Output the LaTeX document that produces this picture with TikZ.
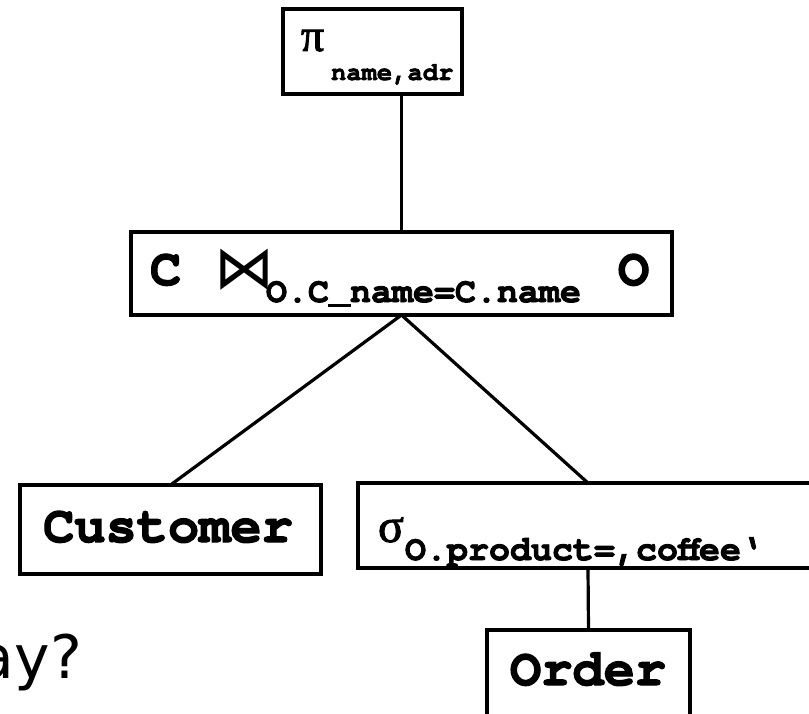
\documentclass[tikz,border=0pt]{standalone}
\usepackage{fontspec}
\setmainfont{Liberation Serif}
\newfontfamily\codefont{texgyrecursor}[Extension=.otf, UprightFont=*-regular, BoldFont=*-bold, BoldFeatures={FakeBold=2.5}]
\newfontfamily\greekfont{Liberation Serif}[FakeBold=2]
\newfontfamily\opfont{DejaVu Sans}
\newfontfamily\slidefont{DejaVu Sans}

\begin{document}
\begin{tikzpicture}[x=1pt,y=-1pt,
  opbox/.style={draw, line width=3.2pt, inner sep=0pt, outer sep=0pt},
  link/.style={line width=3.2pt},
  lbl/.style={inner sep=0pt, outer sep=0pt},
  big/.style={lbl, font=\codefont\bfseries\fontsize{52}{60}\selectfont},
  sub/.style={lbl, font=\codefont\bfseries\fontsize{35}{40}\selectfont},
  smallsub/.style={lbl, font=\codefont\bfseries\fontsize{25.5}{30}\selectfont},
  greek/.style={lbl, font=\greekfont\fontsize{#1}{#1}\selectfont}]

\clip (0,0) rectangle (809,714);
\fill[white] (0,0) rectangle (809,714);

% operator boxes of the query tree
\node[opbox, minimum width=179pt, minimum height=85pt] (proj) at (372.5,51.5) {};
\node[opbox, minimum width=541pt, minimum height=83pt] (join) at (401.5,273.5) {};
\node[opbox, minimum width=301pt, minimum height=89pt] (cust) at (170.5,529.5) {};
\node[opbox, minimum width=460pt, minimum height=85pt] (sel) at (588,525.5) {};
\node[opbox, minimum width=203pt, minimum height=110pt] (ord) at (588.5,685) {};

% tree edges
\draw[link] (proj.south -| join.north) -- (join.north);
\draw[link] (join.south) -- (cust.north);
\draw[link] (join.south) -- (sel.north);
\draw[link] (sel.south) -- (ord.north);

% projection
\node[greek=46, anchor=base west] (pi) at (301,51) {π};
\node[smallsub, anchor=base west] (pisub) at (331,80) {name,adr};

% join
\node[big, anchor=base west] (jc) at (150,285) {C};
\node[lbl, anchor=base west, font=\opfont\fontsize{60}{60}\selectfont] (bowtie) at (214,289) {⋈};
\node[sub, anchor=base west] (jsub) at (266,302) {O.C\_name=C.name};
\node[big, anchor=base west] (jo) at (618,285) {O};

% leaves and selection
\node[big, anchor=base] (custtext) at (168,542) {Customer};
\node[greek=48, anchor=base west] (sigma) at (378,542) {σ};
\node[sub, anchor=base west] (selsub) at (405,560) {O.product=‚coffee‘};
\node[big, anchor=base] (ordtext) at (588,685) {Order};

% slide text at the left margin
\node[lbl, anchor=base east, font=\slidefont\fontsize{60}{60}\selectfont] (question) at (82,678) {ay?};
\end{tikzpicture}
\end{document}
